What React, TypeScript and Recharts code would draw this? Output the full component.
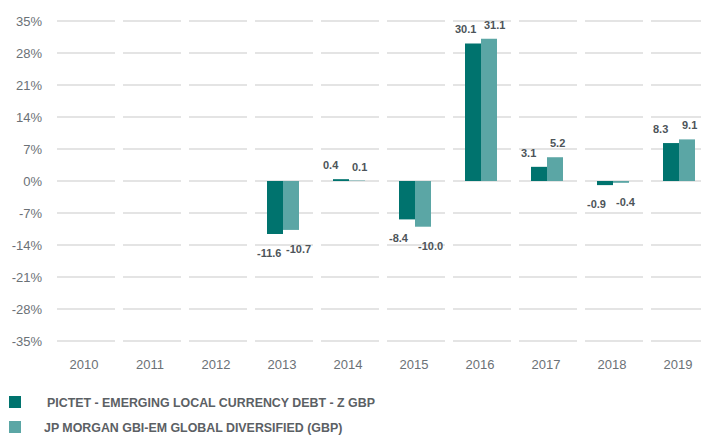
import React from "react";
import { BarChart, Bar, XAxis, YAxis, CartesianGrid, LabelList } from "recharts";

const years = ["2010", "2011", "2012", "2013", "2014", "2015", "2016", "2017", "2018", "2019"];
const pictet: (number | null)[] = [null, null, null, -11.6, 0.4, -8.4, 30.1, 3.1, -0.9, 8.3];
const jpMorgan: (number | null)[] = [null, null, null, -10.7, 0.1, -10.0, 31.1, 5.2, -0.4, 9.1];
const yTicks = [-35, -28, -21, -14, -7, 0, 7, 14, 21, 28, 35];
const seriesNames = [
  "PICTET - EMERGING LOCAL CURRENCY DEBT - Z GBP",
  "JP MORGAN GBI-EM GLOBAL DIVERSIFIED (GBP)",
];
const colors = ["#00736E", "#5BA6A5"];

const data = years.map((y, i) => ({ year: y, pictet: pictet[i], jpm: jpMorgan[i] }));

const FONT = "'Liberation Sans', Arial, sans-serif";

const YTick = (props: any) => {
  const { y, payload } = props;
  return (
    <text x={42} y={y} dy={4.5} textAnchor="end" fontSize={13} fill="#6b7176" fontFamily={FONT}>
      {payload.value}%
    </text>
  );
};

const XTick = (props: any) => {
  const { x, y, payload } = props;
  return (
    <text x={x - 1} y={y} dy={28} textAnchor="middle" fontSize={13} fill="#6b7176" fontFamily={FONT}>
      {payload.value}
    </text>
  );
};

const makeLabel = (dxStart: number) => (props: any) => {
  const { x, y, height, value } = props;
  if (value === null || value === undefined) return null;
  const top = Math.min(y, y + height);
  const bottom = Math.max(y, y + height);
  const ty = value >= 0 ? top - 10 : bottom + 23;
  return (
    <text x={x + dxStart} y={ty} textAnchor="start" fontSize={11} fontWeight="bold" fill="#4d5459" fontFamily={FONT}>
      {Number(value).toFixed(1)}
    </text>
  );
};

export default function App() {
  return (
    <div style={{ position: "absolute", left: 0, top: 0, width: 701, height: 435, overflow: "hidden", background: "#fff" }}>
      <BarChart
        width={720}
        height={435}
        data={data}
        margin={{ top: 21, right: 8, left: 0, bottom: 64 }}
        barGap={0}
        barSize={16}
      >
        <CartesianGrid vertical={false} stroke="#e4e4e4" strokeWidth={2} strokeDasharray="0 5 58 3" />
        <XAxis
          dataKey="year"
          axisLine={false}
          tickLine={false}
          tickSize={0}
          tickMargin={0}
          height={30}
          interval={0}
          tick={<XTick />}
        />
        <YAxis
          domain={[-35, 35]}
          ticks={yTicks}
          interval={0}
          axisLine={false}
          tickLine={false}
          width={52}
          tick={<YTick />}
        />
        <Bar dataKey="pictet" fill={colors[0]} isAnimationActive={false}>
          <LabelList dataKey="pictet" content={makeLabel(-10)} />
        </Bar>
        <Bar dataKey="jpm" fill={colors[1]} isAnimationActive={false}>
          <LabelList dataKey="jpm" content={makeLabel(3)} />
        </Bar>
      </BarChart>
      <div style={{ position: "absolute", left: 9, top: 396, width: 12, height: 12, background: colors[0] }} />
      <div
        style={{
          position: "absolute", left: 47, top: 395, lineHeight: "16px", fontSize: 12.4, fontWeight: "bold",
          color: "#5b6064", fontFamily: FONT, whiteSpace: "nowrap",
        }}
      >
        {seriesNames[0]}
      </div>
      <div style={{ position: "absolute", left: 9, top: 421, width: 12, height: 12, background: colors[1] }} />
      <div
        style={{
          position: "absolute", left: 44, top: 420, lineHeight: "16px", fontSize: 12.4, fontWeight: "bold",
          color: "#5b6064", fontFamily: FONT, whiteSpace: "nowrap",
        }}
      >
        {seriesNames[1]}
      </div>
    </div>
  );
}
